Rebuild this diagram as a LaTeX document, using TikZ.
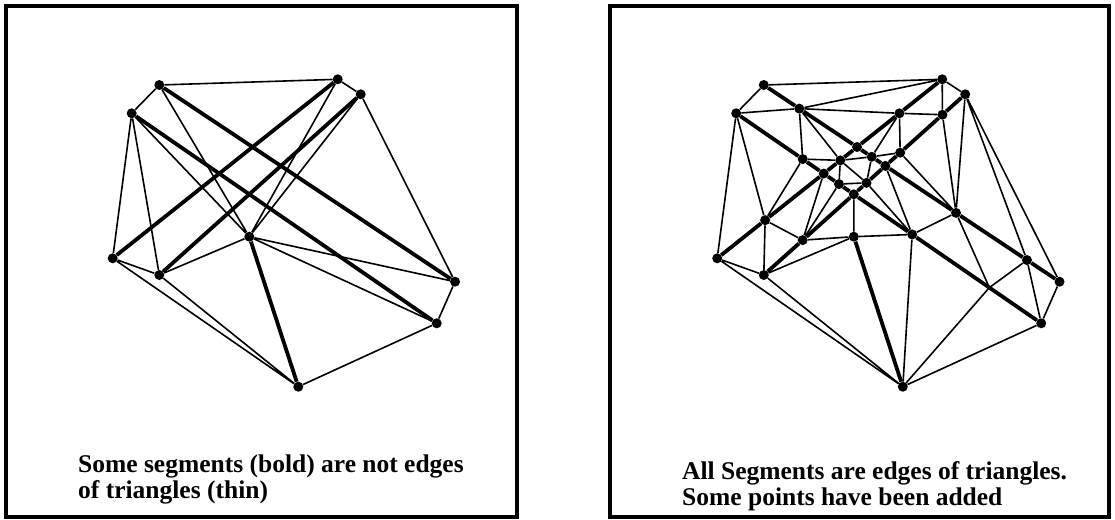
\documentclass[tikz,border=0pt]{standalone}
\usepackage{fontspec}
\setmainfont{Liberation Serif}
\usetikzlibrary{calc,backgrounds}
\begin{document}
\begin{tikzpicture}[x=1pt,y=-1pt,
  dot/.style={circle,fill=black,inner sep=0pt,minimum size=10pt},
  thinedge/.style={line width=1.6pt},
  boldedge/.style={line width=3.8pt,line join=round},
  frame/.style={line width=4pt},
  caption/.style={anchor=north west,align=left,inner sep=0pt,
    font=\bfseries\fontsize{25.5}{26}\selectfont}]
\useasboundingbox (0,0) rectangle (1115,519);
% frames
\draw[frame] (6,6) rectangle (516.5,516.5);
\draw[frame] (610,6) rectangle (1109,516.5);
% original points (left) and their copies (right)
\foreach \n/\x/\y in {A/159.3/85, B/337.7/79.3, C/360.7/94.3, D/131.7/113.3,
    E/249.3/236.7, F/112.7/258.3, G/159.3/275, H/455/281.7, I/436.7/323.3, J/298.3/386.7}{
  \coordinate (cl\n) at (\x,\y);
  \coordinate (cr\n) at (\x+604.5,\y);
}
% added points (right)
\coordinate (cr8)  at (intersection of crA--crH and crF--crB);
\coordinate (cr12) at (intersection of crA--crH and crG--crC);
\coordinate (cr14) at (intersection of crF--crB and crD--crI);
\coordinate (cr17) at (intersection of crD--crI and crG--crC);
\coordinate (cr5)  at ($(crA)!0.12!(crH)$);
\coordinate (cr9)  at ($(crA)!0.365!(crH)$);
\coordinate (cr22) at ($(crA)!0.65!(crH)$);
\coordinate (cr25) at ($(crA)!0.89!(crH)$);
\coordinate (cr18) at ($(crF)!0.213!(crB)$);
\coordinate (cr11) at ($(crF)!0.547!(crB)$);
\coordinate (cr6)  at ($(crF)!0.81!(crB)$);
\coordinate (cr13) at ($(crD)!0.218!(crI)$);
\coordinate (cr15) at ($(crD)!0.337!(crI)$);
\coordinate (cr21) at ($(crD)!0.577!(crI)$);
\coordinate (rP)   at ($(crD)!0.83!(crI)$);
\coordinate (cr19) at ($(crG)!0.193!(crC)$);
\coordinate (cr16) at ($(crG)!0.51!(crC)$);
\coordinate (cr10) at ($(crG)!0.677!(crC)$);
\coordinate (cr7)  at ($(crG)!0.887!(crC)$);
% dots
\foreach \n in {lA,lB,lC,lD,lE,lF,lG,lH,lI,lJ,
    rA,rB,rC,rD,rE,rF,rG,rH,rI,rJ,
    r5,r6,r7,r8,r9,r10,r11,r12,r13,r14,r15,r16,r17,r18,r19,r21,r22,r25}
  \node[dot] (\n) at (c\n) {};
\begin{pgfonlayer}{background}
% left panel
\draw[thinedge] (lA)--(lB) (lA)--(lD) (lB)--(lC) (lC)--(lH) (lD)--(lF) (lD)--(lG)
  (lD)--(lE) (lA)--(lE) (lB)--(lE) (lC)--(lE) (lF)--(lG) (lF)--(lJ) (lG)--(lJ)
  (lG)--(lE) (lE)--(lH) (lE)--(lI) (lH)--(lI) (lI)--(lJ);
\draw[boldedge] (lA)--(lH) (lD)--(lI) (lF)--(lB) (lG)--(lC) (lE)--(lJ);
% right panel
\draw[thinedge] (rA)--(rB) (rA)--(rD) (rD)--(r5) (r5)--(rB) (r5)--(r6) (r5)--(r13)
  (r5)--(r11) (rD)--(r18) (rD)--(rF) (r13)--(r11) (r13)--(r18) (r18)--(r19)
  (r18)--(rG) (rF)--(rG) (rG)--(rE) (r19)--(rE) (rE)--(r21) (rF)--(rJ) (rG)--(rJ)
  (r21)--(rJ) (rJ)--(rP) (rP)--(r25) (r22)--(rP) (r25)--(rI) (rH)--(rI) (rI)--(rJ)
  (rC)--(rH) (rC)--(r25) (rC)--(r22) (r7)--(r22) (r10)--(r22) (r12)--(r21)
  (r16)--(r21) (r22)--(r21) (rB)--(r7) (rB)--(rC) (r6)--(r7) (r6)--(r10)
  (r6)--(r9) (r11)--(r9) (r9)--(r10) (r11)--(r15) (r11)--(r16) (r9)--(r16)
  (r15)--(r16) (r19)--(r14) (r19)--(r15) (r17)--(rE);
\draw[boldedge] (rA)--(r5)--(r8)--(r9)--(r12)--(r22)--(r25)--(rH);
\draw[boldedge] (rF)--(r18)--(r14)--(r11)--(r8)--(r6)--(rB);
\draw[boldedge] (rD)--(r13)--(r14)--(r15)--(r17)--(r21)--(rP)--(rI);
\draw[boldedge] (rG)--(r19)--(r17)--(r16)--(r12)--(r10)--(r7)--(rC);
\draw[boldedge] (rE)--(rJ);
\end{pgfonlayer}
% captions
\node[caption] (ltext) at (78,455) {Some segments (bold) are not edges\\of triangles (thin)};
\node[caption] (rtext) at (682,461) {All Segments are edges of triangles.\\Some points have been added};
\end{tikzpicture}
\end{document}
